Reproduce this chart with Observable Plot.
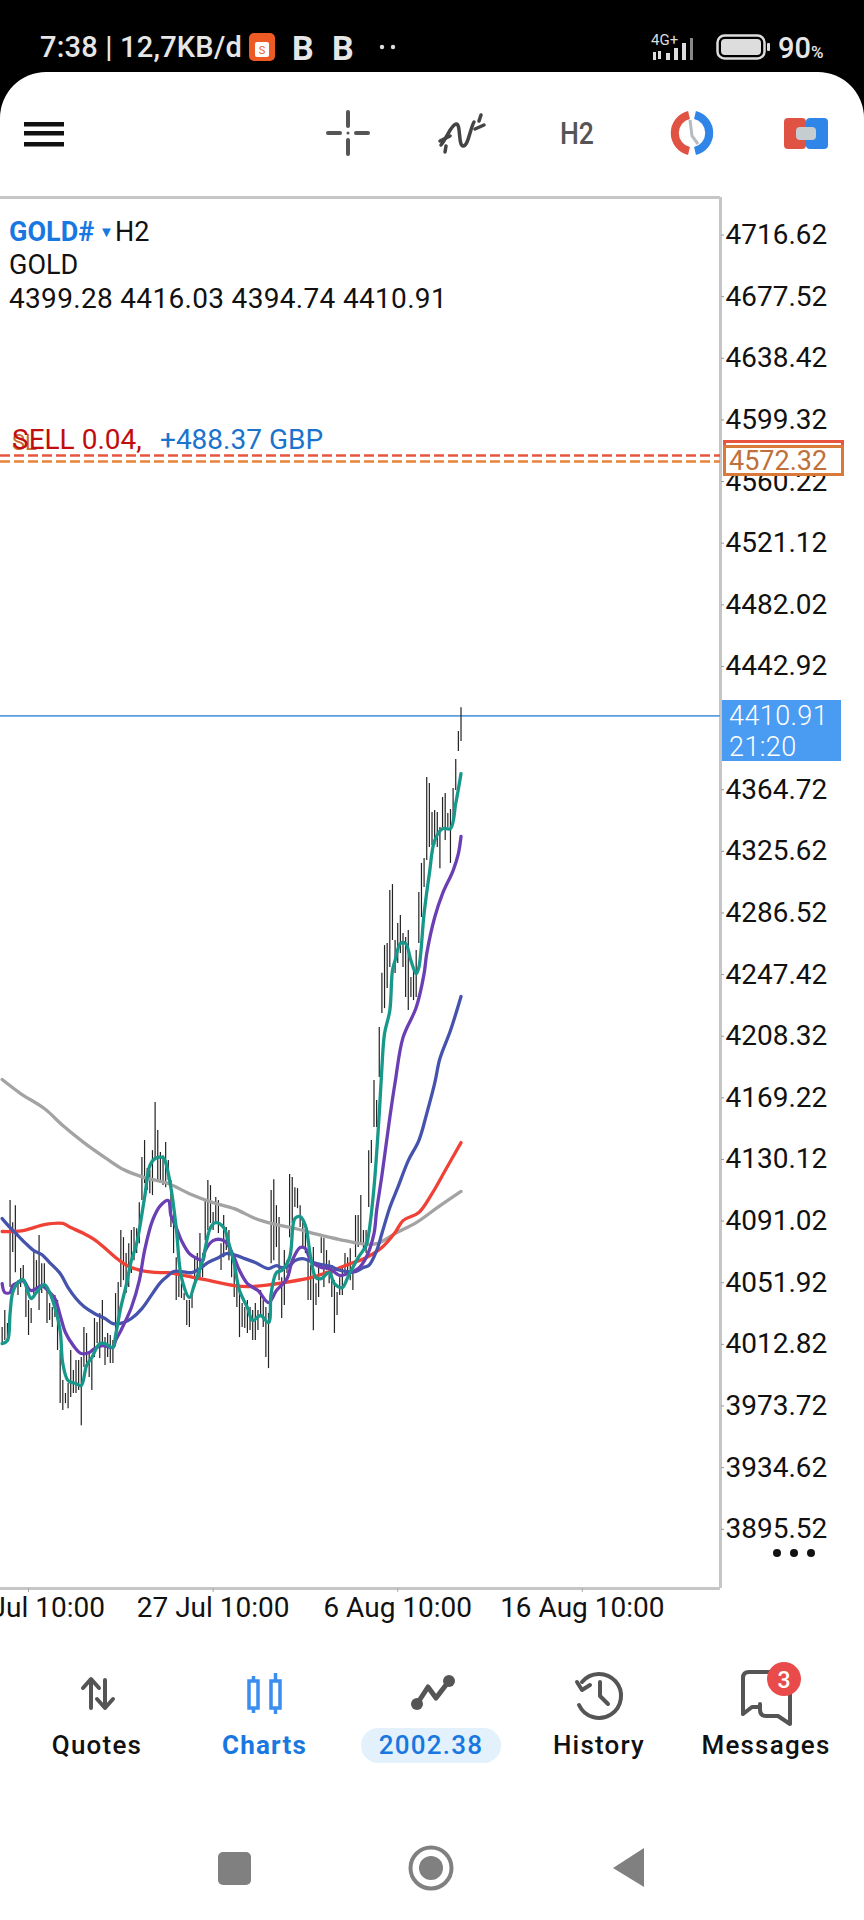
<!DOCTYPE html>
<html>
<head>
<meta charset="utf-8">
<script src="https://cdn.jsdelivr.net/npm/d3@7"></script>
<script src="https://cdn.jsdelivr.net/npm/@observablehq/plot@0.6"></script>
<style>
html,body{margin:0;padding:0;background:#fff;font-family:Roboto,sans-serif;}
#page{position:relative;width:864px;height:1920px;overflow:hidden;background:#fff;}
#head{position:relative;height:190px;background:#000;}
#panel{position:absolute;left:0;top:72px;width:864px;height:118px;background:#fff;border-radius:46px 46px 0 0;}
#chart{position:relative;height:1470px;}
#chart svg{display:block;}
#foot{position:relative;height:260px;}
.abs{position:absolute;white-space:nowrap;line-height:1;}
.nav{position:absolute;top:1732px;font-size:26px;font-weight:500;letter-spacing:1.2px;color:#111;transform:translateX(-50%);white-space:nowrap;line-height:1;}
</style>
</head>
<body>
<div id="page">
  <div id="head">
    <div class="abs" style="left:40px;top:33px;font-size:29px;font-weight:500;color:#e6e6e6;letter-spacing:.2px;">7:38 | 12,7KB/d</div>
    <svg class="abs" style="left:249px;top:33px" width="26" height="28"><rect width="26" height="28" rx="5" fill="#ee5a24"/><rect x="6" y="9" width="14" height="15" rx="2" fill="#fff"/><text x="13" y="21" font-size="11" text-anchor="middle" fill="#ee5a24" font-family="Roboto">S</text></svg>
    <div class="abs" style="left:292px;top:31px;font-size:34px;font-weight:700;color:#e6e6e6;">B</div>
    <div class="abs" style="left:332px;top:31px;font-size:34px;font-weight:700;color:#e6e6e6;">B</div>
    <svg class="abs" style="left:378px;top:42px" width="20" height="10"><circle cx="4" cy="5" r="2.2" fill="#ddd"/><circle cx="15" cy="5" r="2.2" fill="#ddd"/></svg>
    <div class="abs" style="left:651px;top:33px;font-size:15px;color:#ddd;">4G+</div>
    <svg class="abs" style="left:651px;top:36px" width="55" height="25"><g fill="#ddd"><rect x="2" y="16" width="3" height="8"/><rect x="7" y="15" width="3" height="8"/><rect x="15" y="17" width="4" height="7"/><rect x="23" y="12" width="4" height="12"/><rect x="31" y="7" width="4" height="17"/><rect x="39" y="2" width="3" height="22" fill="#888"/></g></svg>
    <svg class="abs" style="left:716px;top:34px" width="56" height="26"><rect x="1.5" y="1.5" width="47" height="23" rx="7" fill="none" stroke="#ddd" stroke-width="2.5"/><rect x="5" y="5" width="40" height="16" rx="4" fill="#ddd"/><rect x="51" y="9" width="3" height="8" rx="1" fill="#ddd"/></svg>
    <div class="abs" style="left:778px;top:34px;font-size:29px;font-weight:500;color:#e6e6e6;">90<span style="font-size:17px">%</span></div>
    <div id="panel"></div>
    <svg class="abs" style="left:0;top:100px" width="864" height="66">
      <g fill="#111"><rect x="24" y="22" width="40" height="4.5"/><rect x="24" y="31" width="40" height="4.5"/><rect x="24" y="42" width="40" height="4.5"/></g>
      <g stroke="#555" stroke-width="4" stroke-linecap="round"><line x1="348" y1="12" x2="348" y2="26"/><line x1="348" y1="40" x2="348" y2="54"/><line x1="328" y1="33" x2="340" y2="33"/><line x1="356" y1="33" x2="368" y2="33"/></g><circle cx="348" cy="33" r="1.5" fill="#555"/>
      <g fill="none" stroke="#444" stroke-width="3.5" stroke-linecap="round"><path d="M441 45 C448 36 451 25 456 24 C461 23 458 45 463 46 C468 47 470 29 474 22"/><path d="M440 41 L450 36"/><path d="M475 29 L484 25"/><path d="M445 52 L446 46"/><path d="M479 21 L481 15"/></g>
      <text x="577" y="44" text-anchor="middle" font-family="Roboto" font-size="31" font-weight="500" fill="#555" textLength="34" lengthAdjust="spacingAndGlyphs">H2</text>
      <path d="M689 15 A18.5 18.5 0 0 0 689 51" fill="none" stroke="#e05244" stroke-width="8"/><path d="M695 15 A18.5 18.5 0 0 1 695 51" fill="none" stroke="#2f86e8" stroke-width="8"/>
      <path d="M690 20 L692 36 L698 44" fill="none" stroke="#b5bcc0" stroke-width="3"/>
      <rect x="784" y="18" width="22" height="31" rx="4" fill="#e05244"/><rect x="806" y="18" width="22" height="31" rx="4" fill="#2f86e8"/><rect x="796" y="27" width="20" height="13" rx="4" fill="#c6cdd0"/>
    </svg>
  </div>
  <div id="chart"></div>
  <div id="foot"></div>
  <!-- header text inside the chart -->
  <div class="abs" style="left:9px;top:219px;font-size:27px;font-weight:700;color:#1877e0;">GOLD#</div>
  <div class="abs" style="left:99px;top:225px;font-size:15px;color:#1877e0;">▼</div>
  <div class="abs" style="left:115px;top:219px;font-size:27px;color:#111;">H2</div>
  <div class="abs" style="left:9px;top:252px;font-size:27px;color:#111;">GOLD</div>
  <div class="abs" style="left:9px;top:285px;font-size:28px;color:#111;letter-spacing:.32px;">4399.28 4416.03 4394.74 4410.91</div>
  <div class="abs" style="left:12px;top:432px;font-size:22px;color:#c66a32;">SL</div>
  <div class="abs" style="left:12px;top:426px;font-size:28px;color:#c00d0d;">SELL 0.04,</div>
  <div class="abs" style="left:160px;top:426px;font-size:28px;color:#1a73cc;">+488.37 GBP</div>
  <svg class="abs" style="left:770px;top:1545px" width="50" height="16"><g fill="#111"><circle cx="7" cy="8" r="4"/><circle cx="24" cy="8" r="4"/><circle cx="41" cy="8" r="4"/></g></svg>
  <!-- bottom navigation -->
  <svg class="abs" style="left:0;top:1660px" width="864" height="260">
    <g fill="none" stroke="#555" stroke-width="4" stroke-linecap="round" stroke-linejoin="round">
      <path d="M91 48 V20 M83 28 L91 19 L99 28"/><path d="M105 20 V47 M97 39 L105 48 L113 39"/>
      <path d="M417 44 L428 27 L436 38 L449 21" stroke-width="5"/>
      <path d="M582 22 A22 22 0 1 1 579 45"/><path d="M577 22 L582 30 L590 25"/><path d="M600 22 V36 L608 44"/>
      <path d="M743 54 V18 Q743 12 749 12 H772 M743 54 L752 47 H760"/><path d="M790 32 V64 L778 56 H766 Q760 56 760 50 V44"/>
    </g>
    <g fill="#555"><circle cx="417" cy="44" r="6"/><circle cx="449" cy="21" r="6"/></g>
    <g fill="none" stroke="#3b8ef0" stroke-width="3.5"><rect x="249" y="21" width="9" height="27"/><rect x="271" y="21" width="9" height="27"/></g>
    <g stroke="#3b8ef0" stroke-width="3.5"><line x1="253.5" y1="16" x2="253.5" y2="21"/><line x1="253.5" y1="48" x2="253.5" y2="53"/><line x1="275.5" y1="13" x2="275.5" y2="21"/><line x1="275.5" y1="48" x2="275.5" y2="54"/></g>
    <circle cx="784" cy="19" r="17" fill="#e94b4b"/>
    <text x="784" y="28" font-family="Roboto" font-size="23" font-weight="500" fill="#fff" text-anchor="middle">3</text>
    <rect x="361" y="68" width="140" height="35" rx="17.5" fill="#e2f1fb"/>
    <g fill="#808080">
      <rect x="218" y="192" width="33" height="33" rx="5"/>
      <circle cx="431" cy="208" r="12"/><path d="M613 208 L644 188 V227 Z"/>
    </g>
    <circle cx="431" cy="208" r="20.5" fill="none" stroke="#808080" stroke-width="4"/>
  </svg>
  <div class="nav" style="left:97px">Quotes</div>
  <div class="nav" style="left:264.5px;color:#1877e0;font-weight:700">Charts</div>
  <div class="nav" style="left:431px;color:#1877e0;">2002.38</div>
  <div class="nav" style="left:599px">History</div>
  <div class="nav" style="left:766px">Messages</div>
</div>
<script>
// --- chart values ---
const priceTicks = [4716.62,4677.52,4638.42,4599.32,4560.22,4521.12,4482.02,4442.92,4364.72,4325.62,4286.52,4247.42,4208.32,4169.22,4130.12,4091.02,4051.92,4012.82,3973.72,3934.62,3895.52];
const timeTickBars = [10,80,150,220];
const timeTickLabels = ["17 Jul 10:00","27 Jul 10:00","6 Aug 10:00","16 Aug 10:00"];
const barHighs = [
4022.9,4033.7,4025.4,4103.4,4089.4,4100.2,4052.6,4060.3,4062.2,4048.2,
4040.0,4034.9,4071.7,4065.3,4081.2,4063.4,4063.4,4048.2,4038.1,4035.6,
4043.2,4040.0,4008.3,3989.2,3981.0,3987.3,4008.3,3995.6,4001.9,4001.9,
4003.8,4022.9,4019.1,4006.4,4001.9,4028.6,4026.0,4031.8,4040.0,4016.5,
4019.1,4017.8,4014.6,4044.4,4051.4,4084.4,4079.9,4069.8,4076.1,4084.4,
4086.3,4085.6,4102.1,4130.7,4141.5,4123.7,4122.5,4135.1,4165.6,4147.8,
4133.9,4131.9,4140.2,4128.8,4116.1,4099.0,4067.2,4055.8,4050.7,4044.4,
4040.0,4040.0,4044.4,4067.2,4069.8,4082.5,4069.8,4103.4,4116.1,4112.9,
4095.8,4105.3,4103.4,4076.1,4093.9,4086.3,4084.4,4069.8,4061.0,4050.7,
4048.2,4038.1,4035.6,4040.0,4035.6,4033.7,4038.1,4033.7,4046.3,4040.0,
4035.6,4031.8,4109.8,4116.7,4100.2,4092.6,4054.5,4071.7,4065.3,4119.9,
4118.0,4111.6,4111.0,4100.2,4089.4,4084.4,4065.3,4062.2,4073.6,4050.7,
4063.4,4079.9,4079.3,4071.7,4065.3,4059.0,4052.6,4045.1,4054.5,4061.0,
4069.8,4067.2,4072.9,4059.0,4093.9,4093.9,4106.6,4084.4,4084.4,4135.1,
4141.5,4179.6,4166.9,4213.2,4247.6,4265.2,4266.5,4300.1,4303.9,4268.4,
4279.2,4284.3,4272.8,4270.3,4274.7,4244.9,4249.3,4262.0,4298.8,4317.3,
4320.4,4371.8,4368.0,4349.6,4350.9,4349.6,4340.1,4359.1,4361.7,4349.0,
4351.5,4364.8,4383.2,4401.0,4416.03];
const barLows = [
4012.7,4014.6,4014.6,4048.2,4070.4,4057.7,4043.2,4048.2,4050.7,4029.2,
4017.8,4025.4,4041.9,4048.2,4033.7,4044.4,4048.2,4025.4,4027.3,4022.9,
4029.2,4008.3,3974.6,3970.2,3974.6,3971.4,3978.4,3981.0,3981.0,3982.9,
3960.6,3997.5,4000.0,3991.1,3982.9,4003.8,4012.7,4003.2,4010.2,3998.8,
4003.8,4000.0,4000.0,4014.6,4025.4,4048.2,4052.6,4044.4,4048.2,4057.1,
4065.3,4069.8,4076.1,4103.4,4114.2,4109.8,4107.8,4106.6,4128.8,4116.1,
4114.2,4112.9,4111.6,4116.1,4086.3,4069.8,4040.0,4041.9,4041.3,4040.0,
4024.1,4022.9,4034.9,4048.2,4052.6,4052.6,4054.5,4078.0,4084.4,4088.9,
4084.4,4088.9,4082.5,4059.0,4067.2,4071.7,4065.3,4054.5,4041.9,4035.6,
4016.5,4022.9,4022.2,4019.1,4021.0,4014.6,4014.6,4021.0,4029.2,4022.9,
4003.8,3996.8,4063.4,4065.3,4073.6,4052.6,4028.6,4036.8,4057.1,4079.9,
4088.9,4099.0,4098.3,4086.3,4073.6,4069.8,4040.0,4040.0,4020.9,4036.8,
4041.9,4069.8,4048.2,4059.0,4050.7,4041.9,4019.1,4030.5,4043.2,4043.2,
4057.1,4054.5,4052.6,4046.3,4067.2,4073.6,4076.1,4071.7,4069.8,4099.0,
4126.9,4149.7,4149.7,4181.5,4222.1,4225.2,4237.9,4251.3,4268.4,4247.4,
4253.8,4260.1,4251.3,4232.2,4224.0,4232.2,4230.3,4232.2,4266.5,4283.0,
4302.0,4319.1,4327.4,4328.7,4328.7,4327.4,4314.0,4340.1,4331.9,4340.1,
4317.3,4344.5,4363.6,4388.3,4394.74];
const tealBars = [0,2,3,4,6,8,9,11,13,16,18,20,22,23,25,28,30,32,34,37,39,42,43,45,47,49,51,54,56,58,61,62,64,66,68,71,73,76,79,81,84,86,88,90,93,95,98,101,102,104,106,109,111,113,115,117,119,121,124,126,129,131,135,138,139,141,143,144,145,147,148,149,151,153,155,157,158,160,162,164,167,170,172,174];
const tealValues = [4012.7,4014.6,4031.8,4045.1,4051.4,4053.3,4049.5,4041.3,4045.1,4050.1,4045.1,4035.6,4020.9,4000.0,3989.2,3987.3,3986.0,3998.8,4003.8,4012.7,4012.7,4010.2,4017.8,4035.6,4049.5,4065.3,4076.1,4105.3,4125.6,4130.1,4130.7,4127.5,4111.6,4086.3,4054.5,4041.9,4050.7,4065.3,4086.3,4089.4,4086.3,4076.1,4063.4,4046.3,4035.6,4027.3,4030.5,4026.0,4044.4,4057.7,4059.0,4067.2,4092.0,4093.2,4087.5,4067.2,4054.5,4053.9,4057.7,4050.7,4048.2,4054.5,4067.2,4074.9,4082.5,4111.6,4158.6,4187.8,4209.4,4224.0,4249.3,4255.7,4266.5,4266.5,4255.7,4247.4,4251.3,4285.5,4310.9,4331.8,4339.4,4339.4,4355.3,4374.3];
const purpleBars = [0,1,3,4,6,8,10,11,13,15,18,20,22,24,27,30,33,35,38,42,43,45,49,52,54,57,60,63,64,66,68,71,74,76,77,80,83,85,88,90,93,97,101,104,108,110,113,115,117,121,124,128,131,135,138,141,142,144,147,149,152,157,160,161,164,167,171,173,174];
const purpleValues = [4050.7,4045.1,4045.1,4049.5,4051.4,4052.6,4047.6,4046.3,4047.6,4049.5,4045.1,4041.3,4030.5,4019.7,4011.4,4006.4,4007.0,4009.5,4011.4,4010.2,4014.6,4020.9,4035.6,4052.6,4071.7,4090.7,4100.2,4103.4,4093.9,4086.3,4078.0,4069.8,4066.6,4065.3,4071.7,4078.0,4078.7,4076.8,4067.2,4059.0,4050.7,4046.3,4038.7,4046.3,4053.9,4065.3,4073.6,4073.0,4065.3,4061.0,4060.3,4055.9,4057.1,4060.3,4067.2,4082.5,4097.1,4119.3,4156.1,4178.3,4206.8,4225.9,4247.4,4260.1,4283.0,4298.2,4312.8,4323.6,4334.4];
const blueBars = [0,3,6,9,12,15,18,22,25,28,31,35,39,42,46,49,53,57,60,63,65,68,72,75,78,82,85,89,92,96,101,104,106,109,111,114,118,121,125,127,131,134,137,139,142,144,147,150,154,158,161,164,166,170,174];
const blueValues = [4092.0,4086.3,4081.2,4076.1,4071.7,4069.2,4064.1,4057.1,4048.2,4041.3,4036.2,4031.8,4028.6,4025.4,4026.0,4028.6,4034.9,4044.4,4051.4,4055.9,4058.4,4058.4,4057.7,4060.3,4064.1,4067.2,4069.8,4068.5,4066.6,4064.1,4060.3,4062.2,4060.9,4062.2,4065.3,4066.6,4064.1,4062.8,4061.6,4059.7,4058.4,4058.4,4060.9,4062.2,4071.7,4082.5,4099.0,4111.6,4128.8,4141.5,4158.6,4177.7,4193.5,4211.3,4232.9];
const redBars = [0,4,8,12,16,23,26,31,35,40,44,48,53,60,63,75,88,94,107,117,123,132,138,144,149,152,158,163,168,174];
const redValues = [4083.8,4083.8,4084.4,4086.3,4088.2,4088.9,4086.3,4082.5,4078.7,4071.7,4066.0,4061.6,4059.0,4057.7,4057.7,4053.9,4049.5,4048.9,4051.4,4054.5,4057.7,4063.4,4067.2,4073.6,4083.1,4090.7,4095.8,4107.8,4122.5,4140.2];
const grayBars = [0,7,16,23,31,39,46,54,63,71,80,88,96,102,111,120,128,136,142,149,157,165,174];
const grayValues = [4180.2,4171.3,4161.8,4151.0,4140.2,4130.7,4123.1,4118.0,4114.2,4107.8,4102.1,4098.3,4092.0,4088.9,4085.7,4081.8,4078.7,4076.1,4076.1,4082.5,4089.4,4098.9,4109.2];
const lastPrice = 4410.91, countdown = "21:20";
const orderPrice = 4572.32, stopPrice = 4576.1;
const priceDomain = [3857.3, 4739.8];
const barDomain = [-0.63, 272.4];

const bars = barHighs.map((h,i)=>({i, high:h, low:barLows[i]}));
const series = (xs, ys) => xs.map((x,i)=>({x, y:ys[i]}));
const ma = (xs, ys, color) => Plot.line(series(xs,ys), {x:"x", y:"y", stroke:color, strokeWidth:3.3, curve:"catmull-rom"});

const plot = Plot.plot({
  width: 864, height: 1470,
  marginLeft: 0, marginRight: 144, marginTop: 7, marginBottom: 72,
  style: {fontFamily: "Roboto", fontSize: "28px", color: "#111", background: "transparent", overflow: "hidden"},
  x: {type: "linear", domain: barDomain, label: null},
  y: {type: "linear", domain: priceDomain, label: null},
  marks: [
    Plot.ruleY([priceDomain[1], priceDomain[0]], {stroke: "#c6c6c6", strokeWidth: 3}),
    Plot.ruleX([barDomain[1]], {stroke: "#c6c6c6", strokeWidth: 3}),
    Plot.axisY({anchor: "right", ticks: priceTicks, tickFormat: d => d.toFixed(2), tickSize: 3, tickPadding: 2, fontSize: 28, stroke: "#999", dy: 1, label: null}),
    Plot.axisX({anchor: "bottom", ticks: timeTickBars, tickFormat: d => timeTickLabels[timeTickBars.indexOf(d)], tickSize: 4, tickPadding: 5, fontSize: 28, stroke: "#aaa", label: null, style: {letterSpacing: ".2px"}}),
    Plot.ruleY([stopPrice], {stroke: "#e8553f", strokeWidth: 2.6, strokeDasharray: "10,4"}),
    Plot.ruleY([orderPrice], {stroke: "#e8833a", strokeWidth: 2.6, strokeDasharray: "10,4"}),
    Plot.ruleY([lastPrice], {stroke: "#5b9ee0", strokeWidth: 1.6}),
    Plot.ruleX(bars, {x: "i", y1: "low", y2: "high", stroke: "#222", strokeWidth: 1.2}),
    ma(grayBars, grayValues, "#a3a3a3"),
    ma(redBars, redValues, "#ef4136"),
    ma(blueBars, blueValues, "#4553ad"),
    ma(purpleBars, purpleValues, "#6a3fb3"),
    ma(tealBars, tealValues, "#17988a")
  ]
});
document.getElementById("chart").appendChild(plot);

// price tags placed from the y scale
const chartTop = 190, yS = plot.scale("y");
const page = document.getElementById("page");
function tag(css, html, price, h){
  const d = document.createElement("div");
  d.className = "abs";
  d.style.cssText += css + `;top:${chartTop + yS.apply(price) - h/2}px;height:${h}px;box-sizing:border-box;`;
  d.innerHTML = html;
  page.appendChild(d);
}
tag("left:723px;width:121px;border:3px solid #e8553f;background:#fff", "", stopPrice, 31);
tag("left:723px;width:121px;border:3px solid #d9793a;background:#fff;color:#c0703a;font-size:27px;padding:0 0 0 3px;line-height:27px", orderPrice.toFixed(2), orderPrice, 31);
const bx = document.createElement("div");
bx.className = "abs";
bx.style.cssText += `left:722px;width:119px;height:61px;top:${chartTop + yS.apply(lastPrice) - 15}px;background:#4a9bf2;color:#fff;font-size:27px;font-weight:300;line-height:31px;padding:1px 0 0 7px;box-sizing:border-box;letter-spacing:.4px;white-space:pre;`;
bx.textContent = lastPrice.toFixed(2) + "\n" + countdown;
page.appendChild(bx);
</script>
</body>
</html>
